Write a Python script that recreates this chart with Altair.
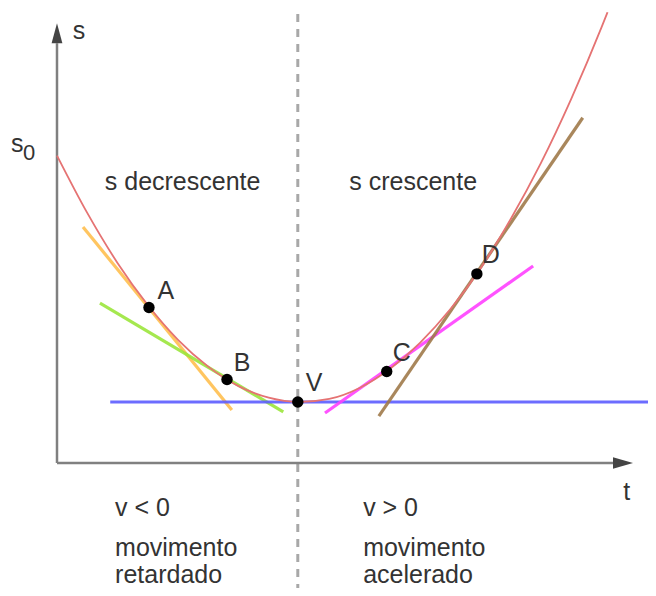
import altair as alt
import pandas as pd

# parabola s(t)
curve_t = [0, 0.5, 1, 1.5, 2, 2.5, 3, 3.5, 4, 4.5, 5, 5.5, 6, 6.5, 7, 7.5, 8, 8.5, 9, 9.1]
curve_s = [5.04, 4.10, 3.28, 2.59, 2.02, 1.58, 1.26, 1.07, 1.00, 1.05, 1.23, 1.54, 1.97,
           2.52, 3.19, 4.00, 4.92, 5.97, 7.14, 7.39]

# marked points
pt_names = ["A", "B", "V", "C", "D"]
pt_t = [1.52, 2.81, 3.98, 5.45, 6.94]
pt_s = [2.55, 1.37, 1.00, 1.50, 3.10]
lbl_t = [1.80, 3.06, 4.25, 5.70, 7.17]
lbl_s = [2.82, 1.64, 1.31, 1.80, 3.41]

# tangent segments
tan_t1 = [0.43, 0.71, 0.88, 4.43, 5.32]
tan_s1 = [3.87, 2.62, 1.00, 0.82, 0.77]
tan_t2 = [2.89, 3.74, 9.77, 7.87, 8.69]
tan_s2 = [0.87, 0.84, 1.00, 3.23, 5.66]
tan_col = ["#FFBF4F", "#9BE63C", "#5C5CFF", "#FF40FF", "#A07A4A"]

# text blocks
blk_txt = ["s decrescente", "s crescente", "v < 0", "movimento", "retardado",
           "v > 0", "movimento", "acelerado", "s", "s", "t"]
blk_t = [0.79, 4.83, 0.96, 0.96, 0.96, 5.06, 5.06, 5.06, 0.26, -0.76, 9.36]
blk_s = [4.61, 4.61, -0.74, -1.39, -1.84, -0.74, -1.39, -1.84, 7.08, 5.23, -0.48]

TMIN, TMAX = -0.8099, 9.7686
SMIN, SMAX = -2.0492, 7.4590

xs = alt.Scale(domain=[TMIN, TMAX], nice=False, zero=False)
ys = alt.Scale(domain=[SMIN, SMAX], nice=False, zero=False)

curve_df = pd.DataFrame({"t": curve_t, "s": curve_s})
pts_df = pd.DataFrame({"t": pt_t, "s": pt_s, "name": pt_names})
lbl_df = pd.DataFrame({"t": lbl_t, "s": lbl_s, "name": pt_names})
tan_df = pd.DataFrame({"t1": tan_t1, "s1": tan_s1, "t2": tan_t2, "s2": tan_s2, "c": tan_col})
blk_df = pd.DataFrame({"t": blk_t, "s": blk_s, "txt": blk_txt})
sub_df = pd.DataFrame({"t": [-0.56], "s": [5.08], "txt": ["0"]})

axes_df = pd.DataFrame({"t1": [0, 0], "s1": [0, 0], "t2": [0, 9.19], "s2": [6.88, 0]})
dash_df = pd.DataFrame({"t1": [3.98], "s1": [7.36], "t2": [3.98], "s2": [SMIN]})
arrow_up = pd.DataFrame({"t": [0], "s": [6.88]})
arrow_rt = pd.DataFrame({"t": [9.19], "s": [0]})

FONT = "Liberation Sans"
TXT = "#333333"

def seg(df, **kw):
    return alt.Chart(df).mark_rule(**kw).encode(
        x=alt.X("t1:Q", scale=xs, axis=None), y=alt.Y("s1:Q", scale=ys, axis=None),
        x2="t2:Q", y2="s2:Q")

axes = seg(axes_df, color="#808080", strokeWidth=2.5)
dash = seg(dash_df, color="#A8A8A8", strokeWidth=3, strokeDash=[8, 7])
tangents = alt.Chart(tan_df).mark_rule(strokeWidth=3.2, opacity=0.9).encode(
    x=alt.X("t1:Q", scale=xs, axis=None), y=alt.Y("s1:Q", scale=ys, axis=None),
    x2="t2:Q", y2="s2:Q", color=alt.Color("c:N", scale=None))

curve = alt.Chart(curve_df).mark_line(color="#E57373", strokeWidth=1.8,
                                      interpolate="monotone", clip=True).encode(
    x=alt.X("t:Q", scale=xs, axis=None), y=alt.Y("s:Q", scale=ys, axis=None))

up = alt.Chart(arrow_up).mark_point(shape="M0,-1L-0.27,0L0.27,0Z", size=1600, filled=True,
                                    color="#444444", opacity=1, strokeWidth=0).encode(
    x=alt.X("t:Q", scale=xs, axis=None), y=alt.Y("s:Q", scale=ys, axis=None))
rt = alt.Chart(arrow_rt).mark_point(shape="M1,0L0,-0.29L0,0.29Z", size=1600, filled=True,
                                    color="#444444", opacity=1, strokeWidth=0).encode(
    x=alt.X("t:Q", scale=xs, axis=None), y=alt.Y("s:Q", scale=ys, axis=None))

dots = alt.Chart(pts_df).mark_circle(size=130, color="black", opacity=1).encode(
    x=alt.X("t:Q", scale=xs, axis=None), y=alt.Y("s:Q", scale=ys, axis=None))

labels = alt.Chart(lbl_df).mark_text(font=FONT, fontSize=25, color=TXT, align="center",
                                     baseline="middle").encode(
    x=alt.X("t:Q", scale=xs, axis=None), y=alt.Y("s:Q", scale=ys, axis=None), text="name:N")

blocks = alt.Chart(blk_df).mark_text(font=FONT, fontSize=25, color=TXT, align="left",
                                     baseline="middle").encode(
    x=alt.X("t:Q", scale=xs, axis=None), y=alt.Y("s:Q", scale=ys, axis=None), text="txt:N")

sub = alt.Chart(sub_df).mark_text(font=FONT, fontSize=22, color=TXT, align="left",
                                  baseline="middle").encode(
    x=alt.X("t:Q", scale=xs, axis=None), y=alt.Y("s:Q", scale=ys, axis=None), text="txt:N")

chart = alt.layer(dash, axes, tangents, curve, up, rt, dots, labels, blocks, sub).properties(
    width=640, height=580, autosize=alt.AutoSizeParams(type="none"), padding=0,
    background="white"
).configure_view(stroke=None)

chart.save("out.html", embed_options={"renderer": "svg", "actions": False})
